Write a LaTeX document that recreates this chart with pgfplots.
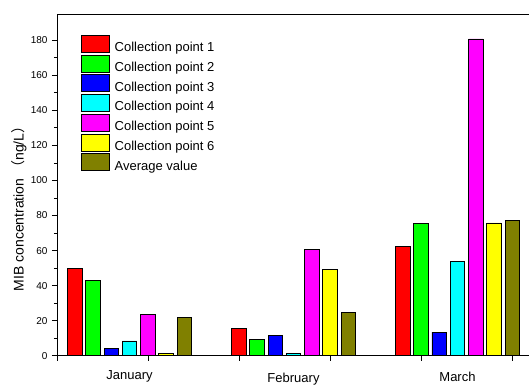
\documentclass[border=0pt]{standalone}
\usepackage{pgfplots}
\pgfplotsset{compat=1.18}
\usepackage{pgfplotstable}
\usetikzlibrary{calc}
\usepackage{fontspec}
\setmainfont{Liberation Sans}
\newfontfamily\cjk{Noto Sans CJK SC}

% MIB concentration (ng/L) per month: g = month index
\pgfplotstableread{
g  p1    p2    p3    p4    p5     p6    avg
0  49.7  42.9  4.2   8.4   23.7   1.5   21.7
1  15.6  9.2   11.4  1.4   60.8   49.1  24.6
2  62.5  75.7  13.4  53.7  180.8  75.8  77.1
}\mibdata

\definecolor{cpred}{RGB}{255,0,0}
\definecolor{cpgreen}{RGB}{0,255,0}
\definecolor{cpblue}{RGB}{0,0,255}
\definecolor{cpcyan}{RGB}{0,255,255}
\definecolor{cpmagenta}{RGB}{255,0,255}
\definecolor{cpyellow}{RGB}{255,255,0}
\definecolor{cpolive}{RGB}{128,128,0}

\begin{document}
\begin{tikzpicture}
\begin{axis}[
  name=ax,
  scale only axis,
  width=480pt, height=341.7pt,
  xmin=-0.4421, xmax=2.4848,
  ymin=0, ymax=195,
  clip mode=individual,
  axis line style={line width=0.9pt, black},
  tick style={line width=0.8pt, black},
  tick align=outside,
  xtick={-0.4421,0.1128,0.6677,1.2226,1.7774,2.3323},
  xticklabels={},
  minor x tick num=1,
  xtick pos=bottom,
  ytick={0,20,...,180},
  minor y tick num=1,
  ytick pos=left,
  major tick length=5pt,
  minor tick length=3pt,
  tick label style={font=\fontsize{10}{12}\selectfont},
  /pgf/number format/assume math mode=true,
  yticklabel style={xshift=-1pt},
  ylabel={MIB concentration {\cjk （}ng/L{\cjk ）}},
  every axis y label/.style={at={(axis description cs:-0.079,0.44)}, rotate=90, anchor=center, font=\fontsize{14}{16}\selectfont},
  legend cell align=left,
  legend style={at={(axis description cs:0.05,0.9386)}, anchor=north west,
    draw=none, fill=none, inner sep=0pt, outer sep=0pt,
    row sep=1.4pt, column sep=5pt,
    nodes={inner sep=0pt},
    font=\fontsize{13}{15}\selectfont},
  mybar/.style={ybar, bar width=14.5pt, draw=black, line width=0.7pt, forget plot},
  swatch/.style={legend image code/.code={\draw[##1, draw=black, line width=0.7pt] (0pt,-4.5pt) rectangle (28pt,12.5pt);}},
]
\addplot[mybar, bar shift=-54.75pt, fill=cpred]      table[x=g, y=p1] {\mibdata};
\addplot[mybar, bar shift=-36.5pt,  fill=cpgreen]    table[x=g, y=p2] {\mibdata};
\addplot[mybar, bar shift=-18.25pt, fill=cpblue]     table[x=g, y=p3] {\mibdata};
\addplot[mybar, bar shift=0pt,      fill=cpcyan]     table[x=g, y=p4] {\mibdata};
\addplot[mybar, bar shift=18.25pt,  fill=cpmagenta]  table[x=g, y=p5] {\mibdata};
\addplot[mybar, bar shift=36.5pt,   fill=cpyellow]   table[x=g, y=p6] {\mibdata};
\addplot[mybar, bar shift=54.75pt,  fill=cpolive]    table[x=g, y=avg] {\mibdata};

\addlegendimage{swatch, fill=cpred}      \addlegendentry{Collection point 1}
\addlegendimage{swatch, fill=cpgreen}    \addlegendentry{Collection point 2}
\addlegendimage{swatch, fill=cpblue}     \addlegendentry{Collection point 3}
\addlegendimage{swatch, fill=cpcyan}     \addlegendentry{Collection point 4}
\addlegendimage{swatch, fill=cpmagenta}  \addlegendentry{Collection point 5}
\addlegendimage{swatch, fill=cpyellow}   \addlegendentry{Collection point 6}
\addlegendimage{swatch, fill=cpolive}    \addlegendentry{Average value}

% month names under each group
\node[anchor=north, inner sep=0pt, font=\fontsize{13}{15}\selectfont] at (axis cs:0,0) [yshift=-15pt] {January};
\node[anchor=north, inner sep=0pt, font=\fontsize{13}{15}\selectfont] at (axis cs:1,0) [yshift=-17.5pt] {February};
\node[anchor=north, inner sep=0pt, font=\fontsize{13}{15}\selectfont] at (axis cs:2,0) [yshift=-16pt] {March};
\end{axis}
\pgfresetboundingbox
\path ($(ax.south west)+(-57pt,-29.3pt)$) rectangle ($(ax.north east)+(-8pt,14pt)$);
\end{tikzpicture}
\end{document}
